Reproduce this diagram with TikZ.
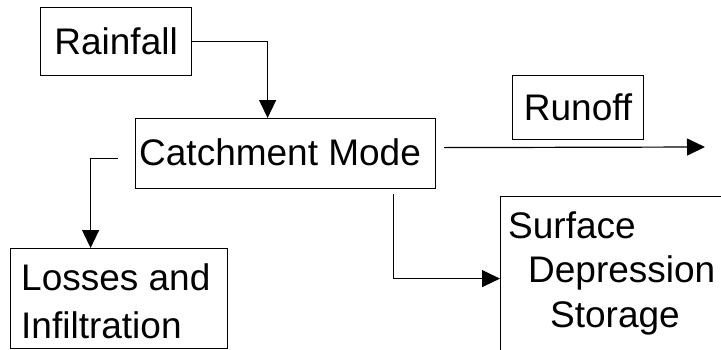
\documentclass[tikz,border=0pt]{standalone}
\usepackage{fontspec}
\setmainfont{Liberation Sans}
\usetikzlibrary{arrows.meta}
\begin{document}
\begin{tikzpicture}[x=1pt,y=-1pt,
  box/.style={draw=black, line width=1.2pt, fill=none, inner sep=0pt, font=\fontsize{37}{44}\selectfont},
  txt/.style={inner sep=0pt, font=\fontsize{37}{44}\selectfont},
  arr/.style={draw=black, line width=1.2pt, -{Triangle[length=18pt,width=17pt]}},
  ln/.style={draw=black, line width=1.2pt}]
\useasboundingbox (0,0) rectangle (721,349);
\clip (0,0) rectangle (721,349);
% boxes
\node[box, anchor=north west, minimum width=151pt, minimum height=68pt] (rain) at (40,7) {Rainfall};
\node[box, anchor=north west, minimum width=300pt, minimum height=70pt] (catch) at (135,118) {};
\node[txt, anchor=base west] (catchtxt) at (139,165) {Catchment Mode};
\node[box, anchor=north west, minimum width=131pt, minimum height=64pt] (run) at (512,75) {Runoff};
\node[box, anchor=north west, minimum width=217pt, minimum height=100pt] (loss) at (10,248) {};
\node[txt, anchor=base west] (loss1) at (21,290) {Losses and};
\node[txt, anchor=base west] (loss2) at (21,338) {Infiltration};
\node[box, anchor=north west, minimum width=260pt, minimum height=164pt] (surf) at (500,196) {};
\node[txt, anchor=base west] (surf1) at (508,238) {Surface};
\node[txt, anchor=base west] (surf2) at (528,282) {Depression};
\node[txt, anchor=base west] (surf3) at (550,327) {Storage};
% connectors
\coordinate (runend) at (705,147);
\draw[arr] (rain.east) -| ([xshift=-18pt]catch.north);
\draw[arr] ([xshift=-17pt,yshift=-5pt]catch.west) -| ([xshift=-28.5pt]loss.north);
\draw[arr] ([xshift=8pt,yshift=6pt]catch.east) -- (runend);
\draw[arr] ([xshift=108pt,yshift=-5pt]catch.south) |- (surf.west);
\end{tikzpicture}
\end{document}
